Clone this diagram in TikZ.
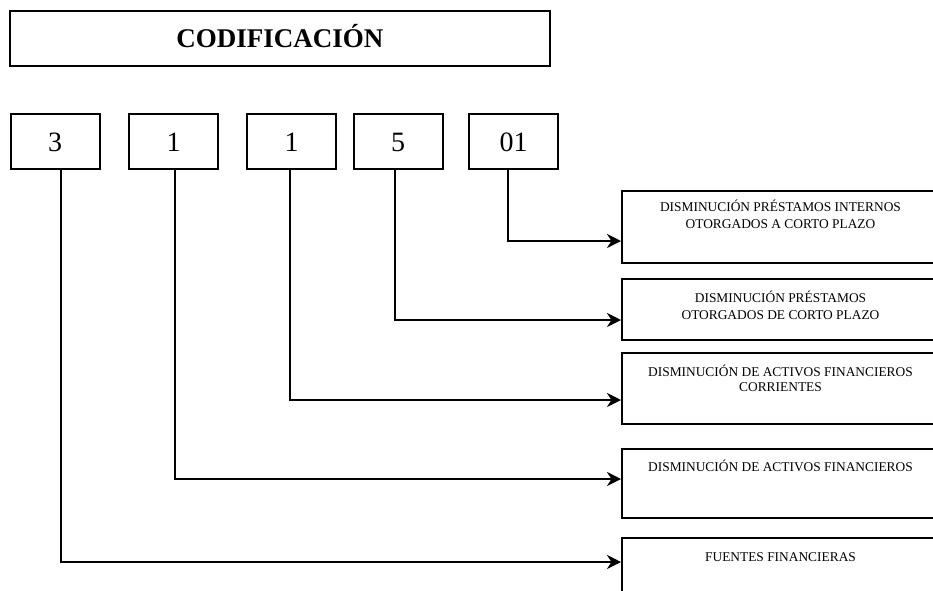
\documentclass[tikz,border=0pt]{standalone}
\usepackage{fontspec}
\setmainfont{Liberation Serif}
\usetikzlibrary{arrows.meta}
\begin{document}
\begin{tikzpicture}[x=1pt,y=-1pt,
  frame/.style={draw, line width=2pt, rectangle, inner sep=0pt},
  codebox/.style={frame, minimum width=89pt, minimum height=55pt,
    font=\fontsize{28}{30}\selectfont, text height=19pt, text depth=0pt},
  descbox/.style={frame, minimum width=317pt, anchor=north west},
  desctext/.style={anchor=base, align=center, inner sep=0pt,
    font=\fontsize{13.4}{17}\selectfont},
  link/.style={line width=2.8pt, -{Stealth[length=14pt,width=14pt,inset=4.5pt]}}]
\useasboundingbox (0,0) rectangle (933,590);
\clip (0,0) rectangle (933,590);

% title
\node[frame, minimum width=540pt, minimum height=55pt,
  font=\bfseries\fontsize{27}{30}\selectfont, text height=18pt, text depth=0pt]
  (title) at (280,38.5) {CODIFICACIÓN};

% code boxes
\node[codebox] (c1) at (55,141.5) {3};
\node[codebox] (c2) at (173.5,141.5) {1};
\node[codebox] (c3) at (291.5,141.5) {1};
\node[codebox] (c4) at (398,141.5) {5};
\node[codebox] (c5) at (513.5,141.5) {01};

% description boxes
\node[descbox, minimum height=72pt] (rA) at (621,190) {};
\node[descbox, minimum height=61pt] (rB) at (621,278) {};
\node[descbox, minimum height=71pt] (rC) at (621,352) {};
\node[descbox, minimum height=69pt] (rD) at (621,448) {};
\node[descbox, minimum height=70pt] (rE) at (621,537) {};

\node[desctext] (tA) at ([yshift=-38pt]rA.north) {DISMINUCIÓN PRÉSTAMOS INTERNOS\\OTORGADOS A CORTO PLAZO};
\node[desctext] (tB) at ([yshift=-41pt]rB.north) {DISMINUCIÓN PRÉSTAMOS\\OTORGADOS DE CORTO PLAZO};
\node[desctext, font=\fontsize{13.4}{15}\selectfont] (tC) at ([yshift=-39pt]rC.north) {DISMINUCIÓN DE ACTIVOS FINANCIEROS\\CORRIENTES};
\node[desctext] (tD) at ([yshift=-23pt]rD.north) {DISMINUCIÓN DE ACTIVOS FINANCIEROS};
\node[desctext] (tE) at ([yshift=-24pt]rE.north) {FUENTES FINANCIERAS};

% connector columns
\coordinate (x1) at (61,0);
\coordinate (x2) at (175,0);
\coordinate (x3) at (290,0);
\coordinate (x4) at (395,0);
\coordinate (x5) at (508,0);

\draw[link] (c5.south -| x5) |- ([yshift=23pt]rA.south west);
\draw[link] (c4.south -| x4) |- ([yshift=21pt]rB.south west);
\draw[link] (c3.south -| x3) |- ([yshift=25pt]rC.south west);
\draw[link] (c2.south -| x2) |- ([yshift=40pt]rD.south west);
\draw[link] (c1.south -| x1) |- ([yshift=-25pt]rE.north west);
\end{tikzpicture}
\end{document}
